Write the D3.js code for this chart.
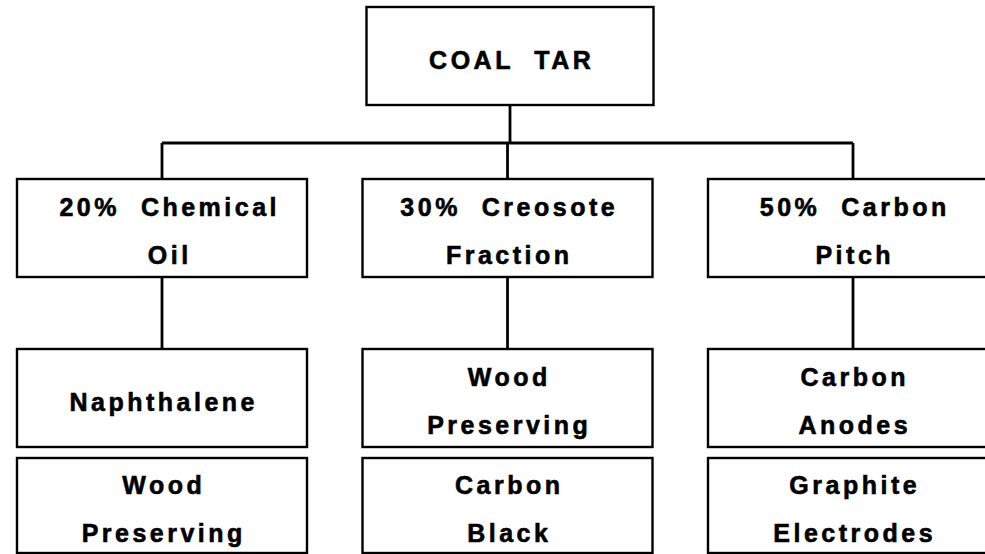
<!DOCTYPE html>
<html>
<head>
<meta charset="utf-8">
<script src="https://cdn.jsdelivr.net/npm/d3@7"></script>
<style>
  html, body { margin: 0; padding: 0; background: #fff; }
  svg { display: block; }
  text { font-family: "Liberation Sans", Arial, sans-serif; font-weight: bold; fill: #000; }
</style>
</head>
<body>
<div id="chart"></div>
<script>
// tree content
const rootLabel = ["COAL  TAR"];
const fractions = [
  ["20%  Chemical", "Oil"],
  ["30%  Creosote", "Fraction"],
  ["50%  Carbon", "Pitch"]
];
const products1 = [
  ["Naphthalene"],
  ["Wood", "Preserving"],
  ["Carbon", "Anodes"]
];
const products2 = [
  ["Wood", "Preserving"],
  ["Carbon", "Black"],
  ["Graphite", "Electrodes"]
];

const width = 985, height = 554;
const boxW = 290, boxH = 98;

const svg = d3.select("#chart").append("svg")
  .attr("width", width)
  .attr("height", height);

// column centres and row tops
const x = d3.scalePoint().domain([0, 1, 2]).range([162, 853]);
const rowTop = d3.scaleOrdinal()
  .domain(["root", "fraction", "product1", "product2"])
  .range([7, 179, 349, 458]);
const rootX = 510;
const busY = 143;

const nodes = [
  { row: "root", cx: rootX, lines: rootLabel, w: 287 },
  ...fractions.map((l, i) => ({ row: "fraction", cx: x(i), lines: l, w: boxW })),
  ...products1.map((l, i) => ({ row: "product1", cx: x(i), lines: l, w: boxW })),
  ...products2.map((l, i) => ({ row: "product2", cx: x(i), lines: l, w: boxW }))
];

// connectors
const links = [
  [[rootX, rowTop("root") + boxH], [rootX, busY]],
  [[x(0), busY], [x(2), busY]],
  ...fractions.map((d, i) => [[x(i), busY], [x(i), rowTop("fraction")]]),
  ...fractions.map((d, i) => [[x(i), rowTop("fraction") + boxH], [x(i), rowTop("product1")]])
];
const line = d3.line();
svg.selectAll("path.link")
  .data(links)
  .enter()
  .append("path")
  .attr("class", "link")
  .attr("d", line)
  .attr("fill", "none")
  .attr("stroke", "#000")
  .attr("stroke-width", 2.8);

const g = svg.selectAll("g.node")
  .data(nodes)
  .enter()
  .append("g")
  .attr("class", "node")
  .attr("transform", d => `translate(${d.cx},${rowTop(d.row)})`);

g.append("rect")
  .attr("x", d => -d.w / 2)
  .attr("y", 0)
  .attr("width", d => d.w)
  .attr("height", d => d.row === "product2" ? boxH - 3 : boxH)
  .attr("fill", "#fff")
  .attr("stroke", "#000")
  .attr("stroke-width", 2.4);

const ls = 3.5;
g.each(function(d) {
  const mid = (d.row === "product2" ? boxH - 3 : boxH) / 2;
  const ys = d.lines.length === 1 ? [mid + 13] : [mid - 12, mid + 36];
  d3.select(this).selectAll("text")
    .data(d.lines)
    .enter()
    .append("text")
    .attr("x", ls / 2 + (d.row === "fraction" && d.cx < 300 ? 6 : 0))
    .attr("y", (t, i) => ys[i])
    .attr("text-anchor", "middle")
    .attr("font-size", 25)
    .attr("letter-spacing", ls)
    .attr("stroke", "#000")
    .attr("stroke-width", 0.6)
    .style("white-space", "pre")
    .text(t => t);
});
</script>
</body>
</html>
